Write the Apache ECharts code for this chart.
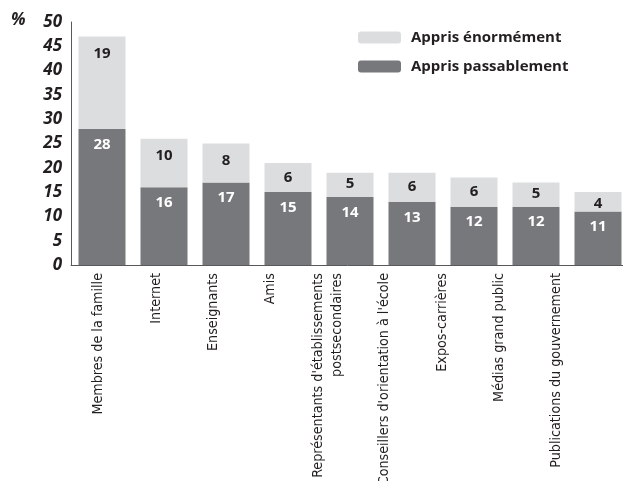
<!DOCTYPE html>
<html>
<head>
<meta charset="utf-8">
<script src="https://cdn.jsdelivr.net/npm/echarts@6/dist/echarts.min.js"></script>
<style>
  html, body { margin: 0; padding: 0; background: #fff; }
  #main { width: 623px; height: 481px; }
</style>
</head>
<body>
<div id="main"></div>
<script>
var categories = [
  'Membres de la famille',
  'Internet',
  'Enseignants',
  'Amis',
  'Représentants d\'établissements\npostsecondaires',
  'Conseillers d\'orientation à l\'école',
  'Expos-carrières',
  'Médias grand public',
  'Publications du gouvernement'
];
var passablement = [28, 16, 17, 15, 14, 13, 12, 12, 11];
var enormement = [19, 10, 8, 6, 5, 6, 6, 5, 4];
var yTicks = [0, 5, 10, 15, 20, 25, 30, 35, 40, 45, 50];

var darkGrey = '#77787b';
var lightGrey = '#dcdddf';
var textCol = '#231f20';

// small light segments get their label pulled up a bit
var enormementData = enormement.map(function (v) {
  var d = v >= 8 ? 10 : (v >= 6 ? 7 : 4);
  return { value: v, label: { distance: d } };
});

var myChart = echarts.init(document.getElementById('main'));

var option = {
  animation: false,
  // grid 0: bars, grid 1: category labels only (they sit a bit tighter)
  grid: [
    { left: 71, top: 22, width: 558, height: 243, outerBoundsMode: 'none' },
    { left: 70, top: 22, width: 515, height: 243, outerBoundsMode: 'none' }
  ],
  legend: {
    orient: 'vertical',
    left: 358,
    top: 30,
    padding: 0,
    itemWidth: 43,
    itemHeight: 12,
    itemGap: 14,
    data: ['Appris énormément', 'Appris passablement'],
    textStyle: {
      color: textCol,
      fontFamily: 'Open Sans',
      fontWeight: 'bold',
      fontSize: 15,
      padding: [0, 0, 0, 5]
    }
  },
  graphic: [{
    type: 'text',
    left: 11,
    top: 12,
    style: {
      text: '%',
      fill: textCol,
      font: 'italic bold 17px "Open Sans"'
    }
  }],
  xAxis: [{
    type: 'category',
    gridIndex: 0,
    data: categories,
    axisLine: { lineStyle: { color: '#58595b', width: 1 } },
    axisTick: { show: false },
    axisLabel: { show: false }
  }, {
    type: 'category',
    gridIndex: 1,
    data: categories,
    axisLine: { show: false },
    axisTick: { show: false },
    axisLabel: {
      rotate: 90,
      margin: 8,
      interval: 0,
      color: textCol,
      fontFamily: '"DejaVu Sans Condensed", Roboto, sans-serif',
      fontSize: 14.2,
      lineHeight: 19
    }
  }],
  yAxis: [{
    type: 'value',
    gridIndex: 0,
    min: 0,
    max: 50,
    interval: 5,
    axisLine: { show: true, lineStyle: { color: '#58595b', width: 1 } },
    axisTick: { show: false },
    splitLine: { show: false },
    axisLabel: {
      margin: 9,
      color: textCol,
      fontFamily: 'Open Sans',
      fontStyle: 'italic',
      fontWeight: 'bold',
      fontSize: 17,
      customValues: yTicks
    }
  }, {
    type: 'value',
    gridIndex: 1,
    min: 0,
    max: 50,
    show: false
  }],
  series: [{
    name: 'Appris passablement',
    type: 'bar',
    stack: 'total',
    xAxisIndex: 0,
    yAxisIndex: 0,
    barWidth: 47,
    data: passablement,
    itemStyle: { color: darkGrey },
    label: {
      show: true,
      position: 'insideTop',
      distance: 8,
      color: '#ffffff',
      fontFamily: 'Open Sans',
      fontWeight: 'bold',
      fontSize: 15
    }
  }, {
    name: 'Appris énormément',
    type: 'bar',
    stack: 'total',
    xAxisIndex: 0,
    yAxisIndex: 0,
    barWidth: 47,
    data: enormementData,
    itemStyle: { color: lightGrey },
    label: {
      show: true,
      position: 'insideTop',
      distance: 9,
      color: textCol,
      fontFamily: 'Open Sans',
      fontWeight: 'bold',
      fontSize: 15
    }
  }]
};

myChart.setOption(option);
</script>
</body>
</html>
